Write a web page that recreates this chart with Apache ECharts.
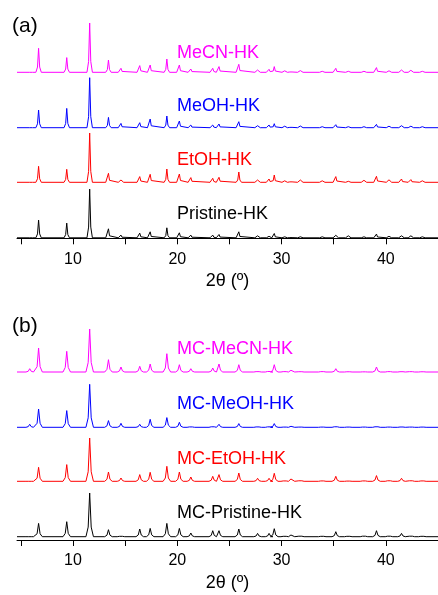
<!DOCTYPE html>
<html>
<head>
<meta charset="utf-8">
<script src="https://cdn.jsdelivr.net/npm/echarts@6/dist/echarts.min.js"></script>
<style>html,body{margin:0;padding:0;background:#fff}#c{width:438px;height:595px}</style>
</head>
<body>
<div id="c"></div>
<script>
// 2θ positions of the diffraction peaks (degrees)
const peakPos = [5.85, 6.7, 9.4, 11.6, 13.4, 14.6, 16.4, 17.4, 19.0, 20.2, 21.3, 23.4, 24.0, 25.9, 27.7, 28.8, 29.3, 30.3, 30.9, 31.8, 33.9, 35.2, 36.4, 37.9, 39.1, 40.3, 41.5, 42.4, 43.5];
const xTicks = [5, 10, 15, 20, 25, 30, 35, 40, 45];
const xLabels = [10, 20, 30, 40];

// Panel (a): relative intensities
const meCN     = [0, 24, 14.7, 49.3, 12.3, 4, 6.7, 7.3, 13.3, 7.3, 3.3, 4, 5.7, 8, 2.3, 3, 5.7, 1.5, 1.5, 1.7, 1, 4, 1, 1, 4.7, 1.5, 2.3, 2, 1];
const meOH     = [0, 17.7, 19.3, 50, 10.3, 4.3, 5, 8.7, 11.7, 6.7, 2.7, 2.7, 3.7, 6, 2, 2.7, 4, 1.5, 1.5, 1.7, 1, 3, 1, 1, 3.3, 1.5, 2, 1.5, 1];
const etOH     = [0, 16, 13, 49.3, 9, 2.3, 5.7, 8, 13.3, 8.3, 4.7, 4, 5, 10.3, 2.3, 3.3, 7.3, 1.5, 2, 2.3, 1.5, 5.7, 1, 2, 6, 2.5, 3.3, 2.7, 1.5];
const pristine = [0, 17.7, 14.7, 48.7, 9, 2.7, 4.7, 6, 10, 5, 2.7, 2.7, 3.3, 6, 2, 1.5, 4.3, 1, 1, 1, 1, 2.5, 2, 1, 3.7, 1.5, 2, 2, 1];

// Panel (b): relative intensities
const mcMeCN     = [3.3, 24, 20.7, 43, 12.3, 5, 5.7, 8, 18.3, 7.3, 3.3, 4, 8, 7.3, 1.7, 2.3, 7.3, 1.7, 1.7, 1.3, 1.7, 3.3, 1, 0.7, 5, 1.7, 1.3, 1.5, 1];
const mcMeOH     = [3, 18.3, 16.7, 43, 6.7, 4, 3, 8, 9.7, 5, 1.7, 2.3, 3, 3.7, 1.7, 2, 3.7, 1, 1, 1, 1, 2.3, 1, 1, 2.3, 1, 1.3, 1, 1];
const mcEtOH     = [0, 14, 16.7, 43.3, 9.3, 3.3, 6.7, 9, 15, 9.3, 4.3, 5, 6.7, 8.3, 3, 3, 8, 1.7, 2.3, 2.3, 1.7, 5, 1, 1.7, 5.7, 2.3, 3, 2.3, 1.7];
const mcPristine = [0, 13.3, 15, 43.7, 7, 1.7, 7.7, 8.3, 13.3, 8.3, 3.7, 6, 6, 7.7, 3.3, 3.3, 8, 1.7, 1.7, 2.3, 1.7, 5, 1.7, 2.3, 6, 2.3, 3.3, 2.3, 1.7];

const namesA = ['MeCN-HK', 'MeOH-HK', 'EtOH-HK', 'Pristine-HK'];
const namesB = ['MC-MeCN-HK', 'MC-MeOH-HK', 'MC-EtOH-HK', 'MC-Pristine-HK'];
const offsetsA = [166, 110.6, 56, 0.5];
const offsetsB = [168, 112.7, 58.7, 3.3];
const colors = ['#ff00ff', '#0000ff', '#ff0000', '#000000'];

const X_MIN = 4.63, X_MAX = 45;
function profile(heights, offset, hw) {
  const pts = [[X_MIN, offset]];
  peakPos.forEach((p, i) => {
    pts.push([p - hw, offset]);
    pts.push([p - hw * 0.4, offset + heights[i] * 0.22]);
    pts.push([p, offset + heights[i]]);
    pts.push([p + hw * 0.4, offset + heights[i] * 0.22]);
    pts.push([p + hw, offset]);
  });
  pts.push([X_MAX, offset]);
  return pts;
}

const FONT = 'Liberation Sans, Arial, sans-serif';
function xAxis(gi) {
  return {
    gridIndex: gi, type: 'value', min: X_MIN, max: X_MAX,
    splitLine: {show: false},
    axisLine: {lineStyle: {color: '#000', width: 1}},
    axisTick: {show: true, length: 6, inside: false, customValues: xTicks, lineStyle: {color: '#000'}},
    axisLabel: {customValues: xLabels, color: '#000', fontSize: 16, fontFamily: FONT, margin: 8},
    name: '2θ (º)', nameLocation: 'middle', nameGap: 29,
    nameTextStyle: {color: '#000', fontSize: 18, fontFamily: FONT}
  };
}
function yAxis(gi, max) {
  return {gridIndex: gi, type: 'value', min: -5, max: max, show: false, splitLine: {show: false}};
}

const seriesA = [meCN, meOH, etOH, pristine].map((h, i) => ({
  type: 'line', xAxisIndex: 0, yAxisIndex: 0, name: namesA[i], showSymbol: false, symbol: 'none',
  data: profile(h, offsetsA[i], 0.26), lineStyle: {color: colors[i], width: 1}, animation: false
}));
const seriesB = [mcMeCN, mcMeOH, mcEtOH, mcPristine].map((h, i) => ({
  type: 'line', xAxisIndex: 1, yAxisIndex: 1, name: namesB[i], showSymbol: false, symbol: 'none',
  data: profile(h, offsetsB[i], 0.36), lineStyle: {color: colors[i], width: 1}, animation: false
}));

function txt(t, x, y, color, size) {
  return {type: 'text', left: x, top: y, style: {text: t, fill: color, font: size + 'px ' + FONT}};
}
const labelYA = [53, 106, 160, 214];
const labelYB = [349, 404, 459.5, 513.5];
const graphics = [txt('(a)', 12, 16, '#000', 21), txt('(b)', 12, 316, '#000', 21)];
namesA.forEach((n, i) => graphics.push({type: 'text', left: 177, top: labelYA[i] - 9, style: {text: n, fill: colors[i], font: '18px ' + FONT}}));
namesB.forEach((n, i) => graphics.push({type: 'text', left: 177, top: labelYB[i] - 9, style: {text: n, fill: colors[i], font: '18px ' + FONT}}));

const chart = echarts.init(document.getElementById('c'), null, {renderer: 'canvas'});
chart.setOption({
  backgroundColor: '#fff',
  animation: false,
  grid: [
    {left: 17, right: 0, top: 15, height: 228.3},
    {left: 17, right: 0, top: 318, height: 227}
  ],
  xAxis: [xAxis(0), xAxis(1)],
  yAxis: [yAxis(0, 223.3), yAxis(1, 222)],
  series: seriesA.concat(seriesB),
  graphic: graphics
});
</script>
</body>
</html>
